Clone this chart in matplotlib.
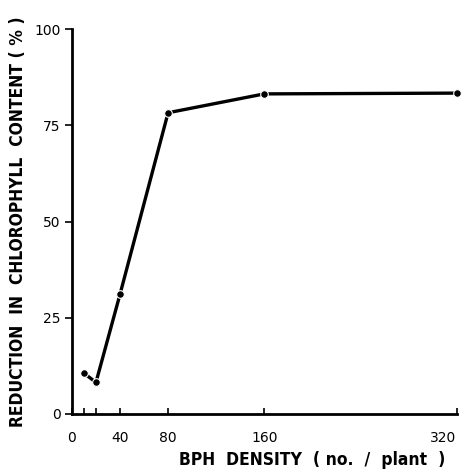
import matplotlib
matplotlib.use('Agg')
import matplotlib.pyplot as plt

# BPH density (no. / plant) vs reduction in chlorophyll content (%)
density = [10, 20, 40, 80, 160, 320]
reduction = [10.6, 8.2, 31.1, 78.3, 83.2, 83.4]

x_ticks = [0, 10, 20, 40, 80, 160, 320]
x_labels = ['0', '', '', '40', '80', '160', '320']
y_ticks = [0, 25, 50, 75, 100]

fig = plt.figure(figsize=(4.64, 4.72), dpi=100)
ax = fig.add_axes([0.155, 0.123, 0.829, 0.815])

ax.plot(density, reduction, color='black', lw=2.4, marker='o', ms=5.5,
        mfc='black', mec='white', mew=0.8, solid_capstyle='butt', clip_on=False)

ax.set_xlim(0, 320)
ax.set_ylim(0, 100)
ax.set_xticks(x_ticks)
ax.set_xticklabels(x_labels)
ax.set_yticks(y_ticks)
ax.get_xticklabels()[-1].set_ha('right')

for s in ['top', 'right']:
    ax.spines[s].set_visible(False)
for s in ['left', 'bottom']:
    ax.spines[s].set_linewidth(2)
ax.tick_params(axis='x', direction='in', length=4, width=1.2, pad=12, labelsize=10)
ax.tick_params(axis='y', direction='out', length=5, width=1.2, pad=3, labelsize=10)

lbl = dict(fontsize=12.5, fontweight='bold', fontstretch='condensed', family='DejaVu Sans')
ax.text(0.97, -0.12, 'BPH  DENSITY  ( no.  /  plant  )', transform=ax.transAxes,
        ha='right', va='center', **lbl)
ax.set_ylabel('REDUCTION  IN  CHLOROPHYLL  CONTENT ( % )', **lbl)
ax.yaxis.set_label_coords(-0.118, 0.5)

fig.savefig('out.png', dpi=100)
